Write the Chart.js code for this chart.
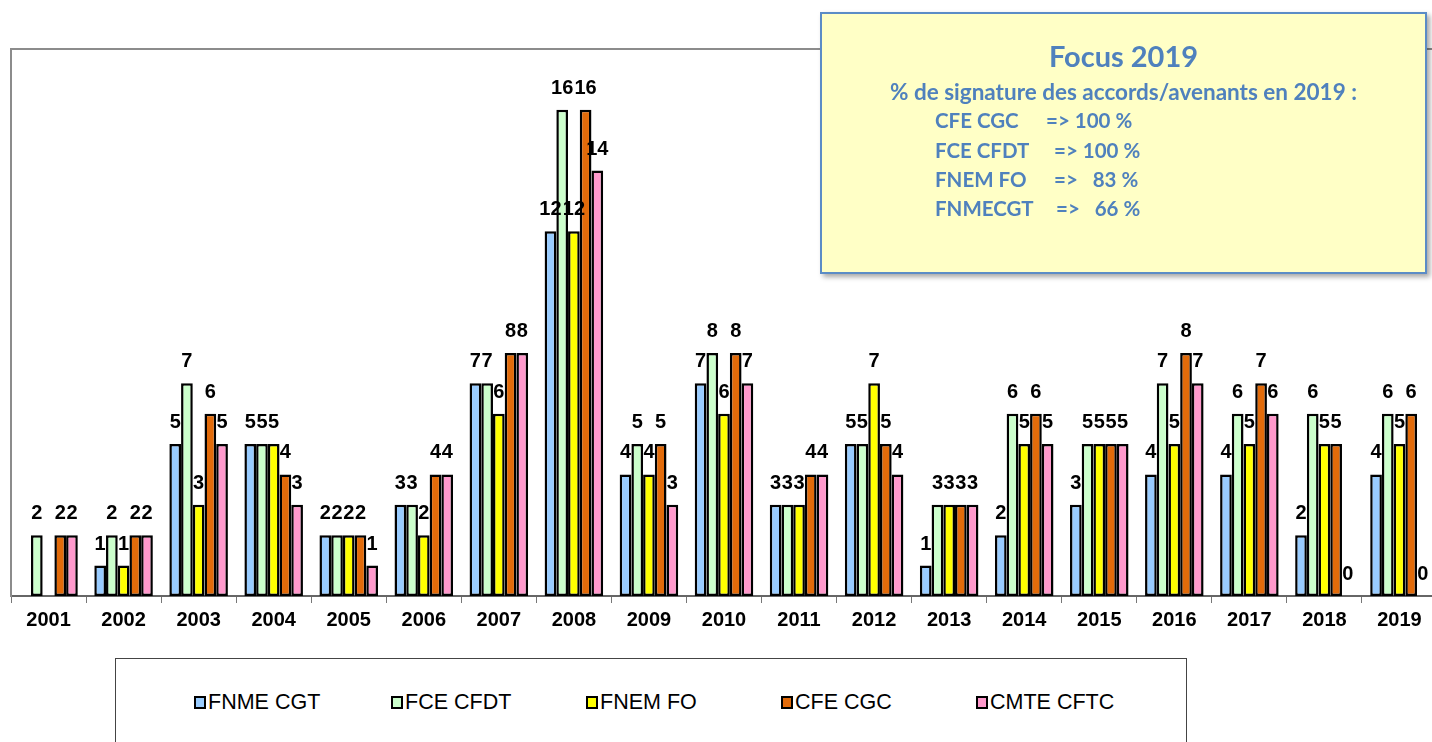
<!DOCTYPE html>
<html><head><meta charset="utf-8">
<script src="https://cdn.jsdelivr.net/npm/chart.js@4/dist/chart.umd.min.js"></script>
<style>
html,body{margin:0;padding:0;background:#fff;width:1432px;height:742px;overflow:hidden;position:relative;font-family:"Liberation Sans",Arial,sans-serif;}
#wrap{position:absolute;left:0;top:0;width:1437px;height:650px;}
#focus{position:absolute;left:820px;top:12px;width:603px;height:258px;background:#FFFFC6;border:2px solid #5B8CC6;box-shadow:3px 3px 5px rgba(0,0,0,0.35);color:#4F81BD;font-family:Lato,"Open Sans",sans-serif;font-weight:bold;}
#focus div{position:absolute;white-space:nowrap;line-height:1;}
#legend{position:absolute;left:115px;top:658px;width:1070px;height:120px;border:1px solid #444;}
.li{position:absolute;top:31px;height:24px;display:flex;align-items:center;font-size:21.5px;color:#000;}
.sw{width:8px;height:9px;border:2px solid #000;margin-right:2px;}
</style></head>
<body>
<div id="wrap"><canvas id="c" width="1437" height="650"></canvas></div>
<div id="focus">
  <div style="left:0;width:603px;text-align:center;top:27px;font-size:29px;">Focus 2019</div>
  <div style="left:0;width:603px;text-align:center;top:67px;font-size:22.5px;">% de signature des accords/avenants en 2019 :</div>
  <div style="left:113px;top:96px;font-size:20.5px;">CFE CGC</div><div style="left:224px;top:96px;font-size:20.5px;">=&gt; 100 %</div>
  <div style="left:113px;top:126px;font-size:20.5px;">FCE CFDT</div><div style="left:232px;top:126px;font-size:20.5px;">=&gt; 100 %</div>
  <div style="left:113px;top:155px;font-size:20.5px;">FNEM FO</div><div style="left:232px;top:155px;font-size:20.5px;">=&gt;&nbsp;&nbsp;&nbsp;83 %</div>
  <div style="left:113px;top:184px;font-size:20.5px;">FNMECGT</div><div style="left:234px;top:184px;font-size:20.5px;">=&gt;&nbsp;&nbsp;&nbsp;66 %</div>
</div>
<div id="legend"></div>
<script>
const years = ["2001","2002","2003","2004","2005","2006","2007","2008","2009","2010","2011","2012","2013","2014","2015","2016","2017","2018","2019"];
const seriesNames = ["FNME CGT","FCE CFDT","FNEM FO","CFE CGC","CMTE CFTC"];
const fnmeCgt  = [null,1,5,5,2,3,7,12,4,7,3,5,1,2,3,4,4,2,4];
const fceCfdt  = [2,2,7,5,2,3,7,16,5,8,3,5,3,6,5,7,6,6,6];
const fnemFo   = [null,1,3,5,2,2,6,12,4,6,3,7,3,5,5,5,5,5,5];
const cfeCgc   = [2,2,6,4,2,4,8,16,5,8,4,5,3,6,5,8,7,5,6];
const cmteCftc = [2,2,5,3,1,4,8,14,3,7,4,4,3,5,5,7,6,0,0];
const seriesColors = ["#99CCFF","#CCFFCC","#FFFF00","#E26B0A","#FF99CC"];
const allSeries = [fnmeCgt,fceCfdt,fnemFo,cfeCgc,cmteCftc];

const datasets = allSeries.map((d,i)=>({
  label: seriesNames[i], data: d, backgroundColor: seriesColors[i],
  borderColor:"#000", borderWidth:2.5, borderSkipped:false,
  barPercentage:1.0, categoryPercentage:0.78
}));

const labelPlugin = {
  id:"vals",
  beforeDraw(chart){
    const a = chart.chartArea, ctx = chart.ctx;
    ctx.save(); ctx.strokeStyle="#8c8c8c"; ctx.lineWidth=2;
    ctx.beginPath(); ctx.moveTo(a.left, a.top); ctx.lineTo(a.right+5, a.top); ctx.stroke();
    ctx.restore();
  },
  afterDatasetsDraw(chart){
    const ctx = chart.ctx;
    ctx.save();
    ctx.font = "bold 20px 'Liberation Sans', Arial, sans-serif";
    ctx.fillStyle = "#000"; ctx.textAlign="center"; ctx.textBaseline="alphabetic";
    chart.data.datasets.forEach((ds,i)=>{
      const meta = chart.getDatasetMeta(i);
      meta.data.forEach((bar,j)=>{
        const v = ds.data[j];
        if(v===null||v===undefined) return;
        ctx.fillText(String(v), bar.x, bar.y - 16);
      });
    });
    ctx.restore();
  }
};

new Chart(document.getElementById("c"),{
  type:"bar",
  data:{labels:years, datasets},
  options:{
    responsive:false, animation:false,
    layout:{padding:{top:49,left:11,right:0,bottom:0}},
    plugins:{legend:{display:false},tooltip:{enabled:false}},
    scales:{
      x:{
        grid:{display:true,drawOnChartArea:false,tickLength:7,color:"#777",offset:true,lineWidth:1},
        border:{display:true,color:"#666",width:2},
        ticks:{color:"#000",padding:5,font:{family:"'Liberation Sans', Arial, sans-serif",size:20,weight:"bold"},maxRotation:0,autoSkip:false},
        afterFit(s){ s.height = 54; }
      },
      y:{
        min:0,max:18,
        ticks:{display:false},
        grid:{display:false},
        border:{display:true,color:"#8c8c8c",width:2},
        afterFit(s){ s.width = 0; }
      }
    }
  },
  plugins:[labelPlugin]
});

const lg = document.getElementById("legend");
const lx = [78,275,470,665,860];
seriesNames.forEach((n,i)=>{
  const el = document.createElement("div");
  el.className="li"; el.style.left = lx[i]+"px";
  const sw = document.createElement("span"); sw.className="sw"; sw.style.background=seriesColors[i];
  const t = document.createElement("span"); t.textContent=n;
  el.appendChild(sw); el.appendChild(t); lg.appendChild(el);
});
</script>
</body></html>
